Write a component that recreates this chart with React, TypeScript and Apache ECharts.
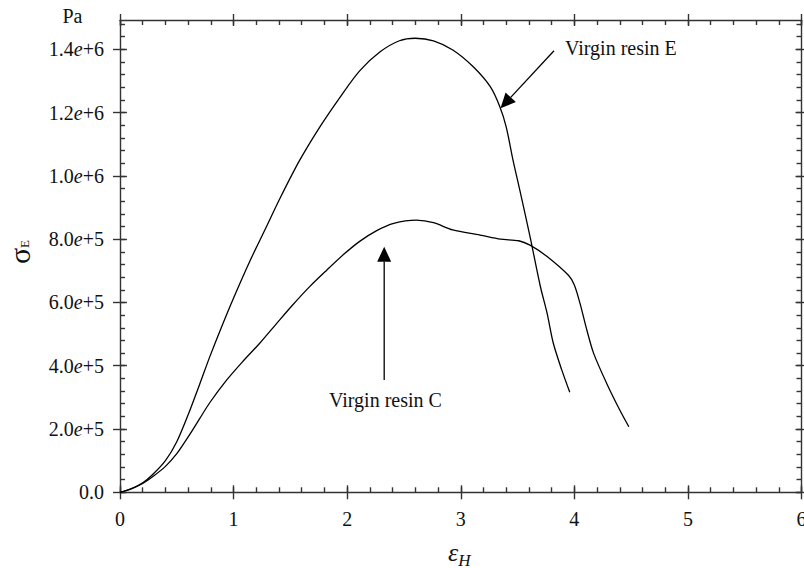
import { useEffect, useRef } from "react";
import * as echarts from "echarts";

// Hencky strain (εH) and engineering stress (σE, Pa) for the two resins
const resinEStrain = [0, 0.1, 0.2, 0.29, 0.4, 0.5, 0.6, 0.7, 0.79, 0.88, 1.0, 1.14, 1.29, 1.41, 1.58, 1.76, 1.94, 2.11, 2.29, 2.46, 2.6, 2.76, 2.93, 3.11, 3.26, 3.345, 3.4, 3.46, 3.52, 3.61, 3.7, 3.76, 3.815, 3.89, 3.96];
const resinEStress = [0, 12e3, 30e3, 57e3, 100e3, 160e3, 245e3, 340e3, 428e3, 510e3, 614e3, 728e3, 840e3, 930e3, 1048e3, 1155e3, 1250e3, 1332e3, 1392e3, 1427e3, 1435e3, 1427e3, 1398e3, 1345e3, 1282e3, 1218e3, 1155e3, 1050e3, 955e3, 808e3, 652e3, 566e3, 471e3, 386e3, 316e3];

const resinCStrain = [0, 0.1, 0.2, 0.29, 0.4, 0.5, 0.6, 0.7, 0.79, 0.94, 1.08, 1.23, 1.38, 1.52, 1.67, 1.82, 1.97, 2.11, 2.26, 2.41, 2.61, 2.76, 2.93, 3.17, 3.35, 3.51, 3.61, 3.76, 3.95, 4.0, 4.05, 4.11, 4.17, 4.285, 4.4, 4.48];
const resinCStress = [0, 11e3, 28e3, 50e3, 82e3, 122e3, 175e3, 232e3, 283e3, 355e3, 413e3, 471e3, 534e3, 592e3, 650e3, 702e3, 752e3, 793e3, 827e3, 850e3, 860e3, 852e3, 829e3, 813e3, 800e3, 795e3, 781e3, 745e3, 685e3, 655e3, 597e3, 513e3, 439e3, 344e3, 260e3, 207e3];

// Axis ranges and ticks
const strainMin = 0;
const strainMax = 6;
const stressMin = 0;
const stressMax = 1.4926e6;
const xMajorTicks = [0, 1, 2, 3, 4, 5, 6];
const xTickLabels = ["0", "1", "2", "3", "4", "5", "6"];
const xMinorTicks = Array.from({ length: 31 }, (_, i) => +(i * 0.2).toFixed(1));
const yMajorTicks = [0, 2e5, 4e5, 6e5, 8e5, 1e6, 1.2e6, 1.4e6];
const yTickLabels = ["0.0", "2.0e+5", "4.0e+5", "6.0e+5", "8.0e+5", "1.0e+6", "1.2e+6", "1.4e+6"];
const yMinorTicks = Array.from({ length: 38 }, (_, i) => i * 4e4);

// Annotations: label text, arrow tip and tail in data units
const annotations = [
  { text: "Virgin resin E", tip: [3.35, 1.2134e6], tail: [3.821, 1.3955e6], label: [3.918, 1.404e6], align: "left" },
  { text: "Virgin resin C", tip: [2.326, 7.761e5], tail: [2.326, 3.549e5], label: [2.337, 2.917e5], align: "center" },
];

const SERIF = "'Liberation Serif', 'Times New Roman', serif";
const INK = "#111";
const axisStroke = { color: "#333", width: 1.4 };

type AxisKind = "x" | "y";

function tickAxis(
  kind: AxisKind,
  position: string,
  ticks: number[],
  length: number,
  inside: boolean,
  withLine: boolean,
  withLabels: boolean
) {
  const isX = kind === "x";
  const labels = isX ? xTickLabels : yTickLabels;
  const majors = isX ? xMajorTicks : yMajorTicks;
  return {
    type: "value",
    position,
    min: isX ? strainMin : stressMin,
    max: isX ? strainMax : stressMax,
    interval: isX ? (ticks === xMinorTicks ? 0.2 : 1) : ticks === yMinorTicks ? 4e4 : 2e5,
    silent: true,
    axisLine: { show: withLine, onZero: false, lineStyle: axisStroke },
    axisTick: { show: true, inside, length, customValues: ticks, lineStyle: axisStroke },
    axisLabel: withLabels
      ? {
          show: true,
          customValues: majors,
          margin: isX ? 17 : 16,
          showMinLabel: true,
          showMaxLabel: true,
          hideOverlap: false,
          formatter: (v: number) => {
            const idx = majors.findIndex((m) => Math.abs(m - v) < 1e-6 * (isX ? 1 : 1e6));
            const s = idx >= 0 ? labels[idx] : "";
            if (isX) return `{n|${s}}`;
            const parts = s.split("e");
            return parts.length === 2 ? `{n|${parts[0]}}{i|e}{n|${parts[1]}}` : `{n|${s}}`;
          },
          rich: {
            n: { fontFamily: SERIF, fontSize: 20, color: INK },
            i: { fontFamily: SERIF, fontSize: 20, color: INK, fontStyle: "italic" },
          },
        }
      : { show: false },
    splitLine: { show: false },
    minorTick: { show: false },
  };
}

function arrowGraphics(tip: number[], tail: number[]) {
  const len = 15;
  const half = 7;
  const dx = tail[0] - tip[0];
  const dy = tail[1] - tip[1];
  const d = Math.hypot(dx, dy);
  const ux = dx / d;
  const uy = dy / d;
  const bx = tip[0] + ux * len;
  const by = tip[1] + uy * len;
  const px = -uy;
  const py = ux;
  return [
    {
      type: "line",
      silent: true,
      shape: { x1: tail[0], y1: tail[1], x2: bx, y2: by },
      style: { stroke: "#000", lineWidth: 1.3 },
    },
    {
      type: "polygon",
      silent: true,
      shape: {
        points: [
          [tip[0], tip[1]],
          [bx + px * half, by + py * half],
          [bx - px * half, by - py * half],
        ],
      },
      style: { fill: "#000" },
    },
  ];
}

function textEl(text: string, x: number, y: number, size: number, italic: boolean, align = "center") {
  return {
    type: "text",
    silent: true,
    x,
    y,
    style: {
      text,
      fill: INK,
      font: `${italic ? "italic " : ""}${size}px ${SERIF}`,
      textAlign: align,
      textVerticalAlign: "middle",
      align,
      verticalAlign: "middle",
    },
  };
}

export default function App() {
  const ref = useRef<HTMLDivElement>(null);

  useEffect(() => {
    if (!ref.current) return;
    const chart = echarts.init(ref.current, undefined, { renderer: "svg" });

    const lineSeries = (name: string, xs: number[], ys: number[]) => ({
      name,
      type: "line",
      xAxisIndex: 0,
      yAxisIndex: 0,
      data: xs.map((x, i) => [x, ys[i]]),
      showSymbol: false,
      smooth: 0.3,
      lineStyle: { color: "#000", width: 1.3 },
      silent: true,
      z: 3,
    });

    chart.setOption({
      animation: false,
      backgroundColor: "#fff",
      grid: { left: 120, right: 2.5, top: 20, bottom: 75.7, outerBoundsMode: "none", containLabel: false },
      xAxis: [
        tickAxis("x", "bottom", xMajorTicks, 7, false, true, true),
        tickAxis("x", "bottom", xMajorTicks, 7, true, false, false),
        tickAxis("x", "bottom", xMinorTicks, 5, true, false, false),
        tickAxis("x", "top", xMajorTicks, 6, false, true, false),
        tickAxis("x", "top", xMajorTicks, 6, true, false, false),
        tickAxis("x", "top", xMinorTicks, 5, true, false, false),
      ],
      yAxis: [
        tickAxis("y", "left", yMajorTicks, 7, false, true, true),
        tickAxis("y", "left", yMajorTicks, 7, true, false, false),
        tickAxis("y", "left", yMinorTicks, 5, true, false, false),
        tickAxis("y", "right", yMajorTicks, 6, false, true, false),
        tickAxis("y", "right", yMajorTicks, 6, true, false, false),
        tickAxis("y", "right", yMinorTicks, 5, true, false, false),
      ],
      series: [
        lineSeries("Virgin resin E", resinEStrain, resinEStress),
        lineSeries("Virgin resin C", resinCStrain, resinCStress),
      ],
    });

    const toPx = (p: number[]) => chart.convertToPixel({ seriesIndex: 0 }, p) as number[];

    const graphics: any[] = [];
    for (const a of annotations) {
      const tip = toPx(a.tip);
      const tail = toPx(a.tail);
      const lbl = toPx(a.label);
      graphics.push(...arrowGraphics(tip, tail));
      graphics.push(textEl(a.text, lbl[0], lbl[1], 20, false, a.align));
    }

    // unit above the stress axis
    graphics.push(textEl("Pa", 72.5, 16, 20, false));

    // σE, rotated to read upward
    graphics.push({
      type: "group",
      x: 21,
      y: 256,
      rotation: Math.PI / 2,
      silent: true,
      children: [
        textEl("σ", 0, -2, 30, false),
        textEl("E", 12, 3.5, 13, false),
      ],
    });

    // εH under the strain axis
    graphics.push(textEl("ε", 453, 552, 26, true));
    graphics.push(textEl("H", 464.5, 560, 17, true));

    chart.setOption({ graphic: graphics });

    return () => chart.dispose();
  }, []);

  return (
    <div
      ref={ref}
      style={{ position: "fixed", left: 0, top: 0, width: 804, height: 568, background: "#fff" }}
    />
  );
}
